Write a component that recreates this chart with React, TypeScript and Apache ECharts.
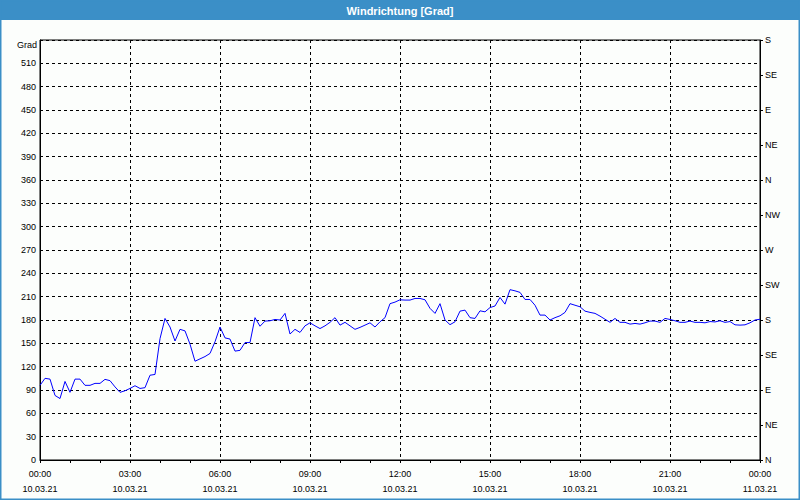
import React, { useEffect, useRef } from "react";
import * as echarts from "echarts";

const chartTitle = "Windrichtung [Grad]";
const leftAxisName = "Grad";
const firstDate = "10.03.21";
const nextDate = "11.03.21";
const compassLabels = ["N", "NE", "E", "SE", "S", "SW", "W", "NW", "N", "NE", "E", "SE", "S"];
const stepMinutes = 10;

// wind direction in degrees, one value every 10 minutes, 00:00 .. 24:00
const windDirection = [
  96, 105, 104, 83, 79, 101, 87, 104, 104, 96,
  96, 98.5, 98.5, 103.7, 102, 94, 87, 89, 92, 95.5,
  92, 93, 109, 110, 156, 182, 171, 153, 168, 166,
  149, 127, 130, 133, 137, 152, 171, 157, 155.5, 140,
  141, 151, 151, 183, 172, 178.6, 179, 180.7, 180, 188.5,
  162, 168, 164, 172.5, 176.4, 172.5, 169, 172.5, 177, 183,
  173.4, 177, 172.5, 168, 170.5, 173.4, 176.4, 171, 177.7, 183,
  201, 203, 206, 205.6, 205.6, 207.7, 207.7, 206, 195, 188.5,
  201, 180, 174, 177.7, 191.4, 192.7, 183, 182, 191.8, 190.5,
  196, 198, 209, 200.4, 219, 217.5, 215.5, 206.4, 206.4, 199,
  186.3, 186.3, 180, 183, 185.4, 189.8, 201, 199, 197, 191.4,
  189.8, 188.5, 185, 181, 177, 182, 177, 177, 174.7, 175.6,
  174.7, 176.4, 178.6, 178.6, 177, 182, 180.7, 179, 177, 177,
  178.6, 177, 177, 176.4, 178, 177.5, 179, 177, 178, 173.8,
  173.4, 173.8, 176.4, 180, 181,
];

const FONT = "'Liberation Sans', Arial, sans-serif";

export default function App() {
  const ref = useRef<HTMLDivElement>(null);

  useEffect(() => {
    document.body.style.margin = "0";
    if (!ref.current) return;
    const chart = echarts.init(ref.current, undefined, { renderer: "svg" });
    const pad = (n: number) => (n < 10 ? "0" + n : "" + n);
    chart.setOption({
      animation: false,
      backgroundColor: "#fcfefc",
      textStyle: { fontFamily: FONT },
      graphic: [
        {
          type: "rect",
          shape: { x: 0, y: 0, width: 800, height: 20 },
          style: { fill: "#3b8fc7" },
          z: 0,
        },
        {
          type: "rect",
          shape: { x: 0.75, y: 0.75, width: 798.5, height: 498.5 },
          style: { fill: "none", stroke: "#3b8fc7", lineWidth: 1.5 },
          z: 0,
        },
        {
          type: "text",
          x: 400,
          y: 11,
          style: {
            text: chartTitle,
            fill: "#ffffff",
            font: `bold 11px ${FONT}`,
            textAlign: "center",
            textVerticalAlign: "middle",
          },
        },
        {
          type: "text",
          x: 37,
          y: 45,
          style: {
            text: leftAxisName,
            fill: "#000000",
            font: `9px ${FONT}`,
            textAlign: "right",
            textVerticalAlign: "middle",
          },
        },
      ],
      grid: {
        left: 40,
        right: 40,
        top: 40,
        bottom: 40,
        show: true,
        borderColor: "#000000",
        borderWidth: 1,
        backgroundColor: "transparent",
      },
      xAxis: {
        type: "value",
        min: 0,
        max: 24,
        interval: 3,
        axisLine: { show: true, lineStyle: { color: "#000000", width: 1 } },
        axisTick: { show: true, length: 3, lineStyle: { color: "#000000" } },
        minorTick: { show: true, splitNumber: 3, length: 3, lineStyle: { color: "#000000" } },
        splitLine: { show: true, lineStyle: { color: "#000000", type: [3, 3], width: 1 } },
        axisLabel: {
          color: "#000000",
          fontSize: 9,
          fontFamily: FONT,
          lineHeight: 15,
          margin: 6,
          formatter: (v: number) =>
            `${pad(v % 24)}:00\n${v >= 24 ? nextDate : firstDate}`,
        },
      },
      yAxis: [
        {
          type: "value",
          min: 0,
          max: 540,
          interval: 30,
          position: "left",
          axisLine: { show: true, lineStyle: { color: "#000000" } },
          axisTick: { show: false },
          splitLine: { show: true, lineStyle: { color: "#000000", type: [3, 3], width: 1 } },
          axisLabel: {
            color: "#000000",
            fontSize: 9,
            fontFamily: FONT,
            margin: 4,
            formatter: (v: number) => (v >= 540 ? "" : String(v)),
          },
        },
        {
          type: "value",
          min: 0,
          max: 540,
          interval: 45,
          position: "right",
          axisLine: { show: true, lineStyle: { color: "#000000" } },
          axisTick: { show: true, length: 3, lineStyle: { color: "#000000" } },
          splitLine: { show: false },
          axisLabel: {
            color: "#000000",
            fontSize: 9,
            fontFamily: FONT,
            margin: 5,
            formatter: (v: number) => compassLabels[Math.round(v / 45)] ?? "",
          },
        },
      ],
      series: [
        {
          type: "line",
          yAxisIndex: 0,
          data: windDirection.map((v, i) => [(i * stepMinutes) / 60, v]),
          showSymbol: false,
          symbol: "none",
          lineStyle: { color: "#0000ff", width: 1 },
          z: 5,
        },
      ],
    });
    return () => chart.dispose();
  }, []);

  return (
    <div
      ref={ref}
      style={{ position: "absolute", left: 0, top: 0, width: 800, height: 500 }}
    />
  );
}
